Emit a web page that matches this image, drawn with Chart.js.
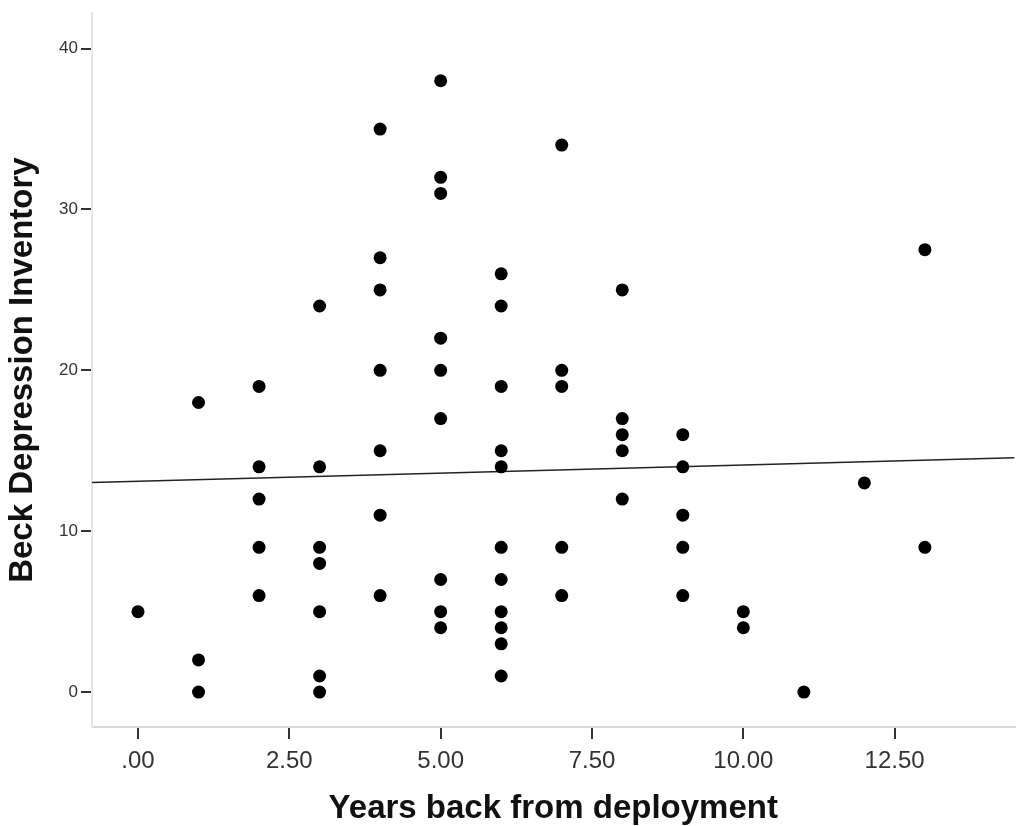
<!DOCTYPE html>
<html>
<head>
<meta charset="utf-8">
<script src="https://cdn.jsdelivr.net/npm/chart.js@4/dist/chart.umd.min.js"></script>
<style>
  html, body { margin: 0; padding: 0; background: #fff; overflow: hidden; }
  #wrap { width: 1021px; height: 826px; }
</style>
</head>
<body>
<div id="wrap"><canvas id="scatterChart"></canvas></div>
<script>
  'use strict';

  // years back from deployment, one entry per respondent
  var years = [
    0,
    1, 1, 1,
    2, 2, 2, 2, 2,
    3, 3, 3, 3, 3, 3, 3,
    4, 4, 4, 4, 4, 4, 4,
    5, 5, 5, 5, 5, 5, 5, 5, 5,
    6, 6, 6, 6, 6, 6, 6, 6, 6, 6, 6,
    7, 7, 7, 7, 7,
    8, 8, 8, 8, 8,
    9, 9, 9, 9, 9,
    10, 10,
    11,
    12,
    13, 13
  ];
  // Beck Depression Inventory score, same order
  var bdi = [
    5,
    18, 2, 0,
    19, 14, 12, 9, 6,
    24, 14, 9, 8, 5, 1, 0,
    35, 27, 25, 20, 15, 11, 6,
    38, 32, 31, 22, 20, 17, 7, 5, 4,
    26, 24, 19, 15, 14, 9, 7, 5, 4, 3, 1,
    34, 20, 19, 9, 6,
    25, 17, 16, 15, 12,
    16, 14, 11, 9, 6,
    5, 4,
    0,
    13,
    27.5, 9
  ];

  // fit line, read at the two ends of the plot
  var fitX = [-0.76, 14.48];
  var fitY = [13.03, 14.57];

  var xTicks = [0, 2.5, 5, 7.5, 10, 12.5];
  var yTicks = [0, 10, 20, 30, 40];

  var points = [];
  for (var i = 0; i < years.length; i++) {
    points.push({ x: years[i], y: bdi[i] });
  }
  var fitLine = [];
  for (var j = 0; j < fitX.length; j++) {
    fitLine.push({ x: fitX[j], y: fitY[j] });
  }

  var ctx = document.getElementById('scatterChart').getContext('2d');
  new Chart(ctx, {
    type: 'scatter',
    data: {
      datasets: [
        {
          label: 'BDI',
          data: points,
          backgroundColor: '#000',
          borderColor: '#000',
          pointRadius: 6.5,
          pointHoverRadius: 6.5,
          borderWidth: 0
        },
        {
          label: 'Fit',
          type: 'line',
          data: fitLine,
          borderColor: '#222',
          borderWidth: 1.5,
          pointRadius: 0,
          fill: false
        }
      ]
    },
    options: {
      responsive: true,
      maintainAspectRatio: false,
      animation: false,
      layout: { padding: { top: 12, right: 0, left: 0, bottom: 0 } },
      plugins: {
        legend: { display: false },
        tooltip: { enabled: false }
      },
      scales: {
        x: {
          type: 'linear',
          min: fitX[0],
          max: fitX[1],
          afterBuildTicks: function (scale) {
            scale.ticks = xTicks.map(function (v) { return { value: v }; });
          },
          afterFit: function (scale) { scale.height = 99; },
          border: { color: '#d9d9d9', width: 2 },
          grid: {
            drawOnChartArea: false,
            drawTicks: true,
            tickLength: 12,
            color: '#333',
            lineWidth: 2
          },
          ticks: {
            padding: 8,
            color: '#333',
            font: { family: 'Liberation Sans, Arial, sans-serif', size: 24 },
            callback: function (v) {
              return v === 0 ? '.00' : Number(v).toFixed(2);
            }
          },
          title: {
            display: true,
            text: 'Years back from deployment',
            color: '#111',
            font: { family: 'Liberation Sans, Arial, sans-serif', size: 33, weight: 'bold' },
            padding: { top: 0, bottom: -3 }
          }
        },
        y: {
          type: 'linear',
          min: -2.17,
          max: 42.2,
          afterBuildTicks: function (scale) {
            scale.ticks = yTicks.map(function (v) { return { value: v }; });
          },
          afterFit: function (scale) { scale.width = 92; },
          border: { color: '#e6e6e6', width: 2 },
          grid: {
            drawOnChartArea: false,
            drawTicks: true,
            tickLength: 11,
            color: '#333',
            lineWidth: 2
          },
          ticks: {
            padding: 3,
            color: '#333',
            font: { family: 'Liberation Sans, Arial, sans-serif', size: 17 }
          },
          title: {
            display: true,
            text: 'Beck Depression Inventory',
            color: '#111',
            font: { family: 'Liberation Sans, Arial, sans-serif', size: 33, weight: 'bold' },
            padding: { top: 3, bottom: 0 }
          }
        }
      }
    }
  });
</script>
</body>
</html>
